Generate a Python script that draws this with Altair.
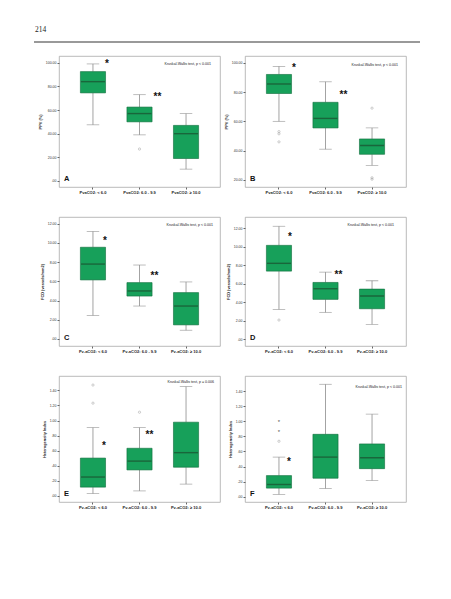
import altair as alt
import pandas as pd

# ---------------- data ----------------
cats_pva = ["PvaCO2: < 6.0", "PvaCO2: 6.0 - 9.9", "PvaCO2: \u2265 10.0"]
cats_pv = ["Pv-aCO2: < 6.0", "Pv-aCO2: 6.0 - 9.9", "Pv-aCO2: \u2265 10.0"]

# Panel A  PPV (%) vs PvaCO2
A_low = [47.5, 39.0, 10.0]
A_q1 = [74.5, 50.0, 19.0]
A_med = [84.0, 57.0, 40.0]
A_q3 = [92.5, 62.5, 47.0]
A_high = [99.0, 73.0, 57.0]
A_out_cat = [1]
A_out_val = [27.0]

# Panel B  PPV (%) vs PvaCO2
B_low = [60.0, 41.0, 30.0]
B_q1 = [79.0, 55.5, 37.5]
B_med = [85.5, 62.0, 43.5]
B_q3 = [92.0, 73.0, 48.0]
B_high = [97.5, 87.0, 55.5]
B_out_cat = [0, 0, 0, 2, 2, 2]
B_out_val = [53.0, 51.5, 46.0, 69.0, 21.5, 20.5]

# Panel C  FCD vs Pv-aCO2
C_low = [2.45, 3.43, 0.91]
C_q1 = [6.15, 4.47, 1.47]
C_med = [7.8, 5.0, 3.43]
C_q3 = [9.55, 5.87, 4.83]
C_high = [11.2, 7.7, 5.94]
C_out_cat = []
C_out_val = []

# Panel D  FCD vs Pv-aCO2
D_low = [3.23, 2.91, 1.62]
D_q1 = [7.36, 4.31, 3.3]
D_med = [8.2, 5.46, 4.67]
D_q3 = [10.14, 6.14, 5.42]
D_high = [12.2, 7.25, 6.32]
D_out_cat = [0]
D_out_val = [2.08]

# Panel E  Heterogeneity Index vs Pv-aCO2
E_low = [0.031, 0.067, 0.157]
E_q1 = [0.117, 0.345, 0.381]
E_med = [0.251, 0.462, 0.574]
E_q3 = [0.502, 0.632, 0.978]
E_high = [0.906, 0.906, 1.45]
E_out_cat = [0, 0, 1]
E_out_val = [1.47, 1.23, 1.11]

# Panel F  Heterogeneity Index vs Pv-aCO2
F_low = [0.031, 0.109, 0.214]
F_q1 = [0.114, 0.245, 0.372]
F_med = [0.162, 0.525, 0.516]
F_q3 = [0.28, 0.827, 0.70]
F_high = [0.525, 1.49, 1.094]
F_out_cat = [0]
F_out_val = [0.735]
F_ext_cat = [0, 0]
F_ext_val = [1.007, 0.884]

kw_001 = "Kruskal-Wallis test, p < 0.001"
kw_006 = "Kruskal-Wallis test, p = 0.006"

GREEN = "#17a05a"
EDGE = "#0e6b3b"
MED = "#1b4d2e"
GRAY = "#8c8c8c"
FONT = "Liberation Sans"

W = 161
H1, H2, H3 = 131, 129, 126

label_expr = ("datum.value < 1 ? '.' + substring(format(datum.value, '.2f'), 2)"
              " : format(datum.value, '.2f')")


def panel(cats, low, q1, med, q3, high, out_cat, out_val, dom, ticks, ytitle,
          letter, kw, kw_right, kw_y, star, star_dx, dstar, dstar_dx, h,
          ext_cat=(), ext_val=(), header=False):
    box = pd.DataFrame({"cat": cats, "low": low, "q1": q1, "med": med,
                        "q3": q3, "high": high})
    x = alt.X("cat:N", sort=cats, title=None,
              scale=alt.Scale(paddingInner=0.46, paddingOuter=0.46),
              axis=alt.Axis(labelAngle=0, labelFont=FONT, labelFontSize=4,
                            labelFontWeight="bold", labelColor="#222",
                            tickSize=2, tickColor="#666", domain=False,
                            labelPadding=1.5))
    yax = alt.Axis(values=ticks, labelExpr=label_expr, labelFont=FONT,
                   labelFontSize=3.5, labelColor="#333", tickSize=2,
                   tickColor="#666", domain=False, grid=False,
                   labelPadding=1, title=ytitle, titleFont=FONT,
                   titleFontSize=3.9, titleFontWeight="bold",
                   titleColor="#222", titlePadding=3)
    ysc = alt.Scale(domain=dom, nice=False, zero=False)

    def Y(f):
        return alt.Y(f"{f}:Q", scale=ysc, axis=yax)

    base = alt.Chart(box)
    layers = [
        base.mark_rule(color=GRAY, strokeWidth=0.8).encode(x=x, y=Y("low"), y2="q1:Q"),
        base.mark_rule(color=GRAY, strokeWidth=0.8).encode(x=x, y=Y("q3"), y2="high:Q"),
        base.mark_tick(color=GRAY, size=12.5, thickness=0.8).encode(x=x, y=Y("low")),
        base.mark_tick(color=GRAY, size=12.5, thickness=0.8).encode(x=x, y=Y("high")),
        base.mark_bar(color=GREEN, stroke=EDGE, strokeWidth=0.6).encode(
            x=x, y=Y("q1"), y2="q3:Q"),
        base.mark_tick(color=MED, size=24, thickness=1.4).encode(x=x, y=Y("med")),
    ]
    if len(out_val):
        od = pd.DataFrame({"cat": [cats[i] for i in out_cat], "v": out_val})
        layers.append(alt.Chart(od).mark_point(shape="circle", filled=False,
                                               size=5, color=GRAY,
                                               strokeWidth=0.6).encode(x=x, y=Y("v")))
    if len(ext_val):
        ed = pd.DataFrame({"cat": [cats[i] for i in ext_cat], "v": list(ext_val),
                           "t": ["*"] * len(ext_val)})
        layers.append(alt.Chart(ed).mark_text(font=FONT, fontSize=6, color="#555",
                                              baseline="middle", dy=1.5).encode(
            x=x, y=Y("v"), text="t:N"))
    sd = pd.DataFrame({"cat": [cats[0]], "v": [star], "t": ["*"]})
    layers.append(alt.Chart(sd).mark_text(font=FONT, fontSize=10, fontWeight="bold",
                                          color="#111", baseline="middle", dy=2.5,
                                          dx=star_dx).encode(x=x, y=Y("v"), text="t:N"))
    if dstar is not None:
        dd = pd.DataFrame({"cat": [cats[1]], "v": [dstar], "t": ["**"]})
        layers.append(alt.Chart(dd).mark_text(font=FONT, fontSize=10, fontWeight="bold",
                                              color="#111", baseline="middle", dy=2.5,
                                              dx=dstar_dx).encode(x=x, y=Y("v"), text="t:N"))
    kd = pd.DataFrame({"t": [kw]})
    layers.append(alt.Chart(kd).mark_text(font=FONT, fontSize=3.6, color="#222",
                                          align="right", baseline="middle").encode(
        x=alt.value(W - kw_right), y=alt.value(kw_y), text="t:N"))
    ld = pd.DataFrame({"t": [letter]})
    layers.append(alt.Chart(ld).mark_text(font=FONT, fontSize=7.5, fontWeight="bold",
                                          color="#111", align="left",
                                          baseline="alphabetic").encode(
        x=alt.value(5), y=alt.value(h - 6.5), text="t:N"))
    if header:
        hd = pd.DataFrame({"t": ["214"]})
        layers.append(alt.Chart(hd).mark_text(font="Liberation Serif", fontSize=7.5,
                                              color="#222", align="left",
                                              baseline="alphabetic").encode(
            x=alt.value(-24), y=alt.value(-24.3), text="t:N"))
        layers.append(alt.Chart(hd).mark_rule(color="#777", strokeWidth=1.6).encode(
            x=alt.value(-25), x2=alt.value(361), y=alt.value(-14)))
    return alt.layer(*layers).properties(width=W, height=h)


pA = panel(cats_pva, A_low, A_q1, A_med, A_q3, A_high, A_out_cat, A_out_val,
           [-5.1, 105.7], [0, 20, 40, 60, 80, 100], "PPV (%)", "A", kw_001, 9, 7.5,
           101, 14, 73, 18, H1, header=True)
pB = panel(cats_pva, B_low, B_q1, B_med, B_q3, B_high, B_out_cat, B_out_val,
           [15.2, 104.6], [20, 40, 60, 80, 100], "PPV (%)", "B", kw_001, 8, 9,
           98, 15, 79.5, 18, H1)
pC = panel(cats_pv, C_low, C_q1, C_med, C_q3, C_high, C_out_cat, C_out_val,
           [-0.73, 12.7], [0, 2, 4, 6, 8, 10, 12], "FCD (vessels/mm2)", "C", kw_001,
           7, 8, 10.5, 12, 6.8, 15, H2)
pD = panel(cats_pv, D_low, D_q1, D_med, D_q3, D_high, D_out_cat, D_out_val,
           [-0.72, 13.2], [0, 2, 4, 6, 8, 10, 12], "FCD (vessels/mm2)", "D", kw_001,
           12, 8, 11.3, 11, 7.25, 13, H2)
pE = panel(cats_pv, E_low, E_q1, E_med, E_q3, E_high, E_out_cat, E_out_val,
           [-0.08, 1.59], [0, 0.2, 0.4, 0.6, 0.8, 1.0, 1.2, 1.4], "Heterogeneity Index",
           "E", kw_006, 6, 6, 0.70, 11, 0.84, 10, H3)
pF = panel(cats_pv, F_low, F_q1, F_med, F_q3, F_high, F_out_cat, F_out_val,
           [-0.07, 1.6], [0, 0.2, 0.4, 0.6, 0.8, 1.0, 1.2, 1.4], "Heterogeneity Index",
           "F", kw_001, 4, 11, 0.49, 10, None, 0, H3, ext_cat=F_ext_cat,
           ext_val=F_ext_val)

chart = alt.concat(pA, pB, pC, pD, pE, pF, columns=2, bounds="flush",
                   spacing={"column": 25, "row": 30}, align="each").properties(
    padding={"left": 24, "top": 17, "right": 5, "bottom": 5},
    background="white",
).configure_view(stroke="#a8a8a8", strokeWidth=0.8).configure_concat(spacing=25)

chart.save("out.html", embed_options={"renderer": "svg", "actions": False})
